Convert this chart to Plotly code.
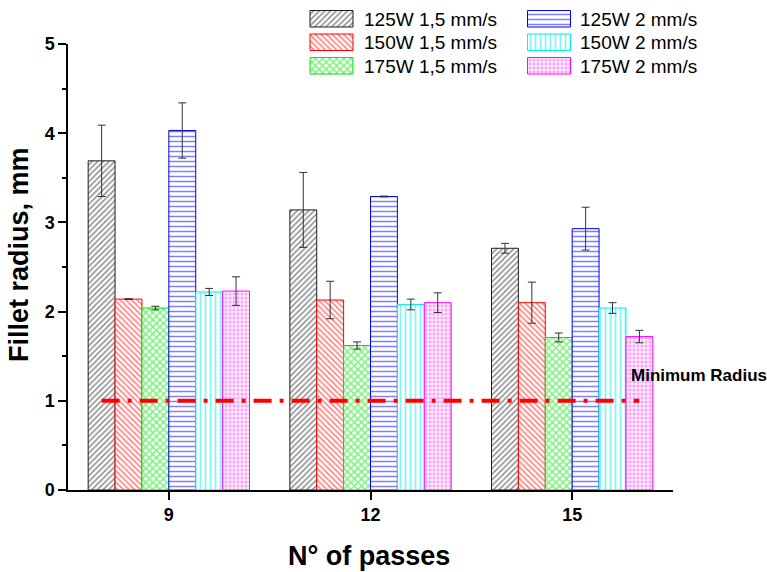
import plotly.graph_objects as go

# ---------------- data ----------------
passes = [9, 12, 15]
pass_labels = ["9", "12", "15"]

series_names = ["125W 1,5 mm/s", "150W 1,5 mm/s", "175W 1,5 mm/s",
                "125W 2 mm/s", "150W 2 mm/s", "175W 2 mm/s"]

r_125_15 = [3.69, 3.14, 2.71]
e_125_15 = [0.40, 0.42, 0.055]
r_150_15 = [2.14, 2.13, 2.10]
e_150_15 = [0.005, 0.21, 0.23]
r_175_15 = [2.04, 1.62, 1.71]
e_175_15 = [0.02, 0.04, 0.05]
r_125_2 = [4.03, 3.29, 2.93]
e_125_2 = [0.31, 0.005, 0.24]
r_150_2 = [2.22, 2.08, 2.04]
e_150_2 = [0.04, 0.06, 0.06]
r_175_2 = [2.23, 2.10, 1.72]
e_175_2 = [0.16, 0.11, 0.07]

values = [r_125_15, r_150_15, r_175_15, r_125_2, r_150_2, r_175_2]
errors = [e_125_15, e_150_15, e_175_15, e_125_2, e_150_2, e_175_2]

min_radius_x = [8, 16]
min_radius_y = [1, 1]
min_radius_label = "Minimum Radius"

y_ticks = [0, 1, 2, 3, 4, 5]

# ---------------- styles ----------------
colors = ["#1e1e1e", "#ff0000", "#00e600", "#0000ff", "#00f0f0", "#ff00ff"]
shapes = ["/", "\\", "x", "-", "|", "+"]
psizes = [4, 4, 5, 5, 5, 4]
psolid = [0.38, 0.38, 0.5, 0.3, 0.34, 0.4]

FONT = "Arial, Liberation Sans, sans-serif"

# figure geometry (pixels)
W, H = 767, 572
ML, MR, MT, MB = 68, 94, 2, 82
plot_h = H - MT - MB
y_top_px = 44
ydom_top = (H - MB - y_top_px) / plot_h

fig = go.Figure()

for i, name in enumerate(series_names):
    fig.add_trace(go.Bar(
        x=passes, y=values[i], name=name,
        marker=dict(color=colors[i],
                    line=dict(color=colors[i], width=1),
                    pattern=dict(shape=shapes[i], fgcolor=colors[i], bgcolor="white",
                                 size=psizes[i], solidity=psolid[i])),
        error_y=dict(type="data", array=errors[i], color="#333333",
                     thickness=1, width=4),
        showlegend=False, xaxis="x", yaxis="y",
    ))

fig.add_trace(go.Scatter(
    x=min_radius_x, y=min_radius_y, mode="lines",
    line=dict(color="#ff0000", width=4, dash="18px,8px,4px,8px"),
    showlegend=False, hoverinfo="skip", xaxis="x", yaxis="y",
))

# ---------------- custom legend (pixel-mapped helper axes) ----------------
leg_col_x = [331.5, 331.5, 331.5, 549, 549, 549]
leg_row_top = [10.5, 34, 57.5, 10.5, 34, 57.5]
leg_sw_h = 16.5
leg_sw_w = 43
leg_text_x = [361.5, 361.5, 361.5, 577.5, 577.5, 577.5]

for i in range(len(series_names)):
    fig.add_trace(go.Bar(
        x=[leg_col_x[i]], y=[leg_sw_h], base=[leg_row_top[i]],
        width=leg_sw_w, offset=-leg_sw_w / 2,
        marker=dict(color=colors[i], line=dict(color=colors[i], width=1),
                    pattern=dict(shape=shapes[i], fgcolor=colors[i], bgcolor="white",
                                 size=psizes[i], solidity=psolid[i])),
        showlegend=False, hoverinfo="skip", xaxis="x2", yaxis="y2",
    ))

annotations = []
for i, name in enumerate(series_names):
    annotations.append(dict(
        x=leg_text_x[i], y=leg_row_top[i] + leg_sw_h / 2 + 0.5, xref="x2", yref="y2",
        text=name, showarrow=False, xanchor="left", yanchor="middle",
        font=dict(family=FONT, size=19, color="black")))

annotations.append(dict(
    x=(629 - ML) / (W - ML - MR), y=1.28, xref="paper", yref="y",
    text=min_radius_label, showarrow=False, xanchor="left", yanchor="middle",
    font=dict(family=FONT, size=17, color="black", weight="bold")))

annotations.append(dict(
    x=(19 - ML) / (W - ML - MR), y=(H - MB - 255) / plot_h, xref="paper", yref="paper",
    text="Fillet radius, mm", textangle=-90, showarrow=False,
    xanchor="center", yanchor="middle",
    font=dict(family=FONT, size=27, color="black", weight="bold")))

annotations.append(dict(
    x=0.497, y=(H - MB - 556) / plot_h, xref="paper", yref="paper",
    text="N° of passes", showarrow=False, xanchor="center", yanchor="middle",
    font=dict(family=FONT, size=27, color="black", weight="bold")))

fig.update_layout(
    width=W, height=H,
    margin=dict(l=ML, r=MR, t=MT, b=MB, pad=0, autoexpand=False),
    paper_bgcolor="white", plot_bgcolor="rgba(0,0,0,0)",
    barmode="group", bargap=0.2, bargroupgap=0,
    font=dict(family=FONT, color="black"),
    annotations=annotations,
    xaxis=dict(domain=[0, 1], anchor="y", range=[7.5, 16.5], automargin=False,
               tickvals=passes, ticktext=pass_labels,
               ticks="outside", ticklen=8, tickwidth=1.5, tickcolor="black",
               showline=True, linecolor="black", linewidth=1.5,
               showgrid=False, zeroline=False,
               tickfont=dict(family=FONT, size=18, color="black", weight="bold")),
    yaxis=dict(domain=[0, ydom_top], anchor="x", range=[0, 5], automargin=False,
               tickvals=y_ticks,
               ticks="outside", ticklen=8, tickwidth=1.5, tickcolor="black",
               minor=dict(ticks="outside", ticklen=4, tickwidth=1.5, tickcolor="black",
                          dtick=0.5, tick0=0, showgrid=False),
               showline=True, linecolor="black", linewidth=1.5,
               showgrid=False, zeroline=False,
               tickfont=dict(family=FONT, size=18, color="black", weight="bold")),
    xaxis2=dict(domain=[0, 1], anchor="y2", range=[ML, W - MR], visible=False,
                fixedrange=True, automargin=False),
    yaxis2=dict(domain=[0, 1], anchor="x2", range=[H - MB, MT], visible=False,
                fixedrange=True, automargin=False),
)

fig.write_html("out.html")
